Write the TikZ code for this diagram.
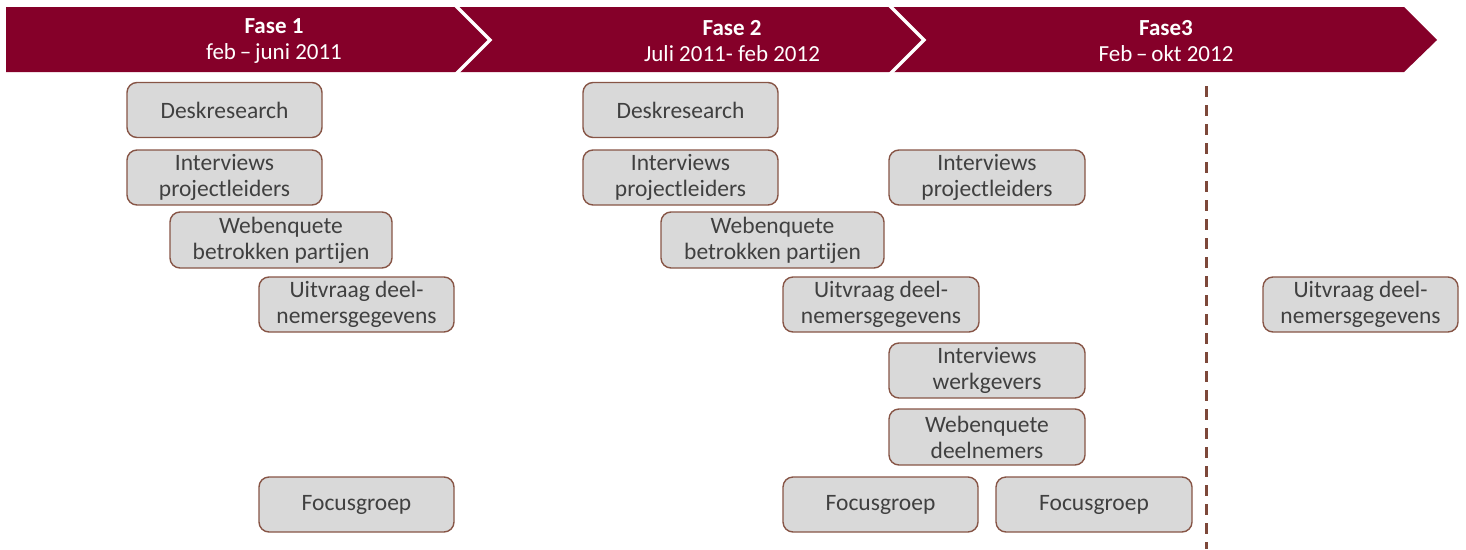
\documentclass[tikz,border=0pt]{standalone}
\usepackage{fontspec}
\setmainfont{Carlito}[Ligatures=NoCommon]
\definecolor{barred}{RGB}{133,0,41}
\definecolor{boxfill}{RGB}{217,217,217}
\definecolor{boxline}{RGB}{135,85,70}
\definecolor{boxtext}{RGB}{64,64,64}
\definecolor{dashbrown}{RGB}{125,72,58}
\begin{document}
\begin{tikzpicture}[x=1pt,y=-1pt,
  box/.style={draw=boxline, line width=1.4pt, fill=boxfill, rounded corners=10pt,
    text=boxtext, align=center, inner sep=0pt,
    font=\fontsize{23.5}{26}\selectfont},
  head/.style={text=white, align=center, inner sep=0pt,
    font=\fontsize{23}{26}\selectfont},
  sep/.style={draw=white, line width=3.5pt, line join=miter},
  divider/.style={draw=dashbrown, line width=3pt, dash pattern=on 11pt off 8pt}
]
\useasboundingbox (0,0) rectangle (1466,549);
% header bar
\fill[barred] (6,7) -- (1404,7) -- (1437,40) -- (1404,72) -- (6,72) -- cycle;
\draw[sep] (455,5) -- (490,40) -- (455,75);
\draw[sep] (889,5) -- (924,40) -- (889,75);
\node[head] (f1) at (274,41) {\textbf{Fase 1}\\feb\,–\,juni 2011};
\node[head] (f2) at (732,41) {\textbf{Fase 2}\\Juli 2011- feb 2012};
\node[head] (f3) at (1166,41) {\textbf{Fase3}\\Feb\,–\,okt 2012};
% divider
\coordinate (dtop) at (1206,86);
\coordinate (dbot) at (1206,549);
\draw[divider] (dtop) -- (dbot);
% phase 1
\node[box, minimum width=195, minimum height=55] (a1) at (224.5,110) {Deskresearch};
\node[box, minimum width=195, minimum height=55] (a2) at (224.5,177.5) {Interviews\\projectleiders};
\node[box, minimum width=222, minimum height=56] (a3) at (281,240) {Webenquete\\betrokken partijen};
\node[box, minimum width=195, minimum height=55] (a4) at (356.5,304.5) {Uitvraag deel-\\nemersgegevens};
\node[box, minimum width=195, minimum height=55] (a5) at (356.5,504.5) {Focusgroep};
% phase 2
\node[box, minimum width=195, minimum height=55] (b1) at (680.5,110) {Deskresearch};
\node[box, minimum width=195, minimum height=55] (b2) at (680.5,177.5) {Interviews\\projectleiders};
\node[box, minimum width=223, minimum height=56] (b3) at (772.5,240) {Webenquete\\betrokken partijen};
\node[box, minimum width=196, minimum height=55] (b4) at (881,304.5) {Uitvraag deel-\\nemersgegevens};
\node[box, minimum width=195, minimum height=55] (b5) at (880.5,504.5) {Focusgroep};
\node[box, minimum width=196, minimum height=55] (c1) at (987,177.5) {Interviews\\projectleiders};
\node[box, minimum width=196, minimum height=55] (c2) at (987,370.5) {Interviews\\werkgevers};
\node[box, minimum width=196, minimum height=56] (c3) at (987,437) {Webenquete\\deelnemers};
\node[box, minimum width=196, minimum height=55] (c4) at (1094,504.5) {Focusgroep};
% phase 3
\node[box, minimum width=195, minimum height=55] (d1) at (1360.5,304.5) {Uitvraag deel-\\nemersgegevens};
\end{tikzpicture}
\end{document}
